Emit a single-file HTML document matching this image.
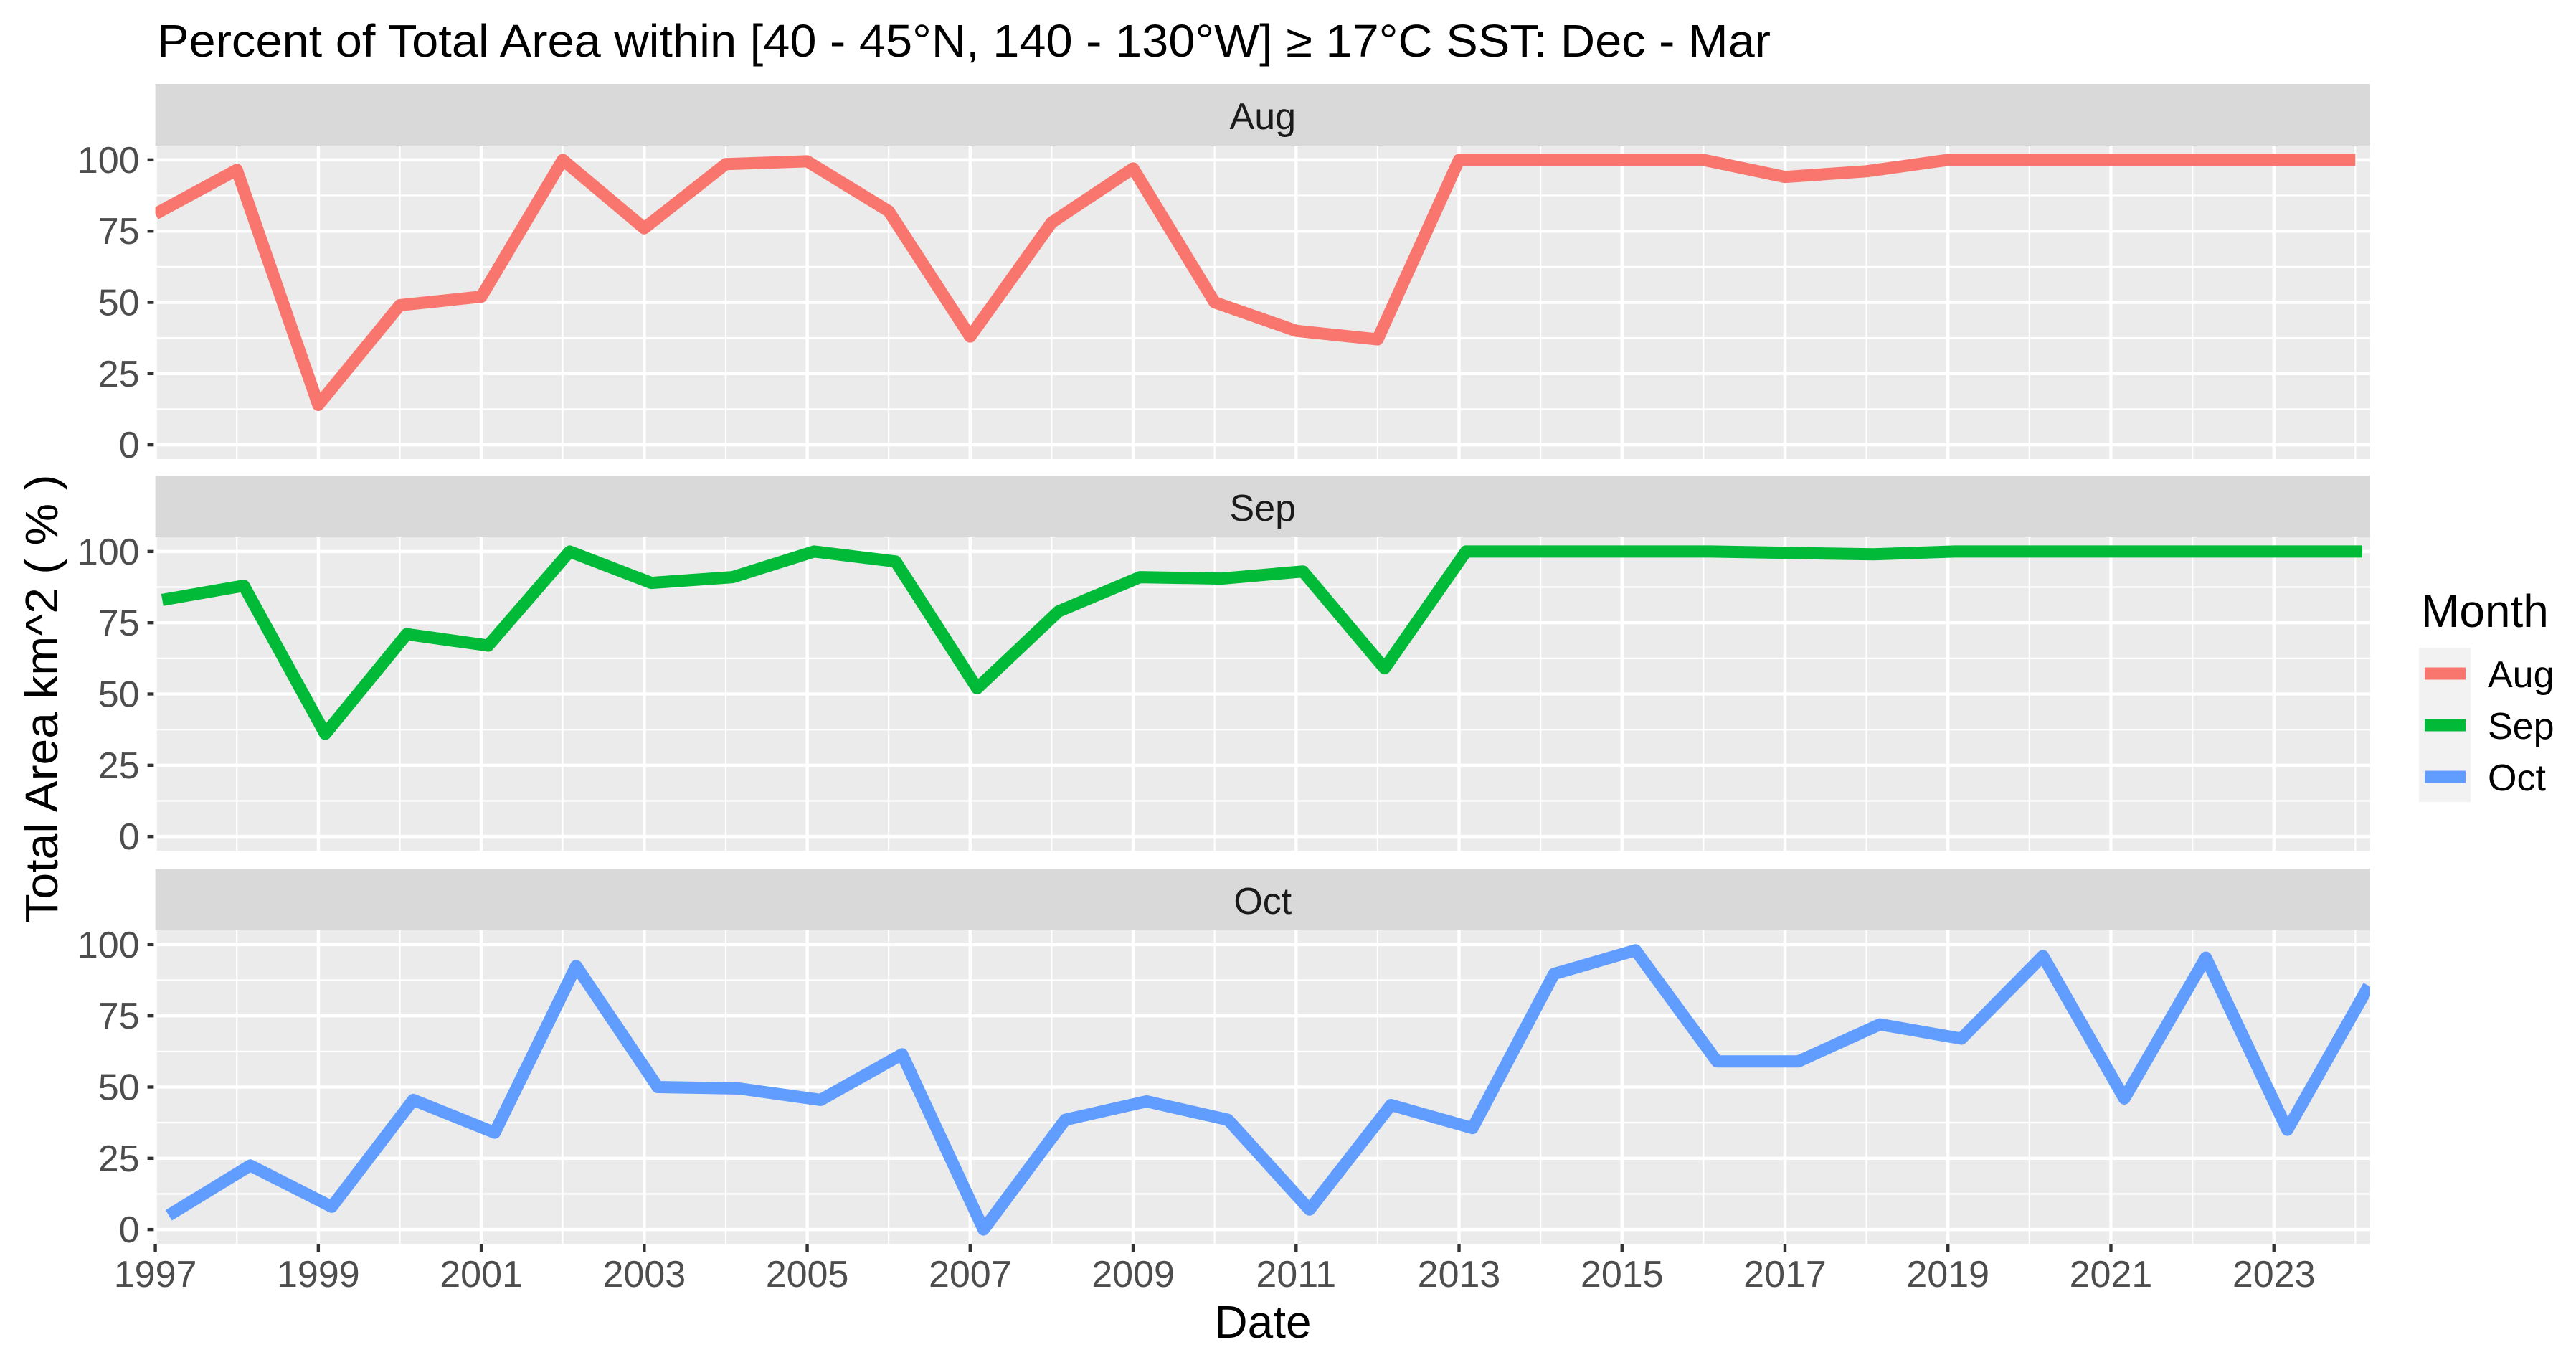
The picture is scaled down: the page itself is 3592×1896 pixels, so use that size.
<!DOCTYPE html>
<html><head><meta charset="utf-8"><style>
html,body{margin:0;padding:0;background:#fff;}
svg{display:block;font-family:"Liberation Sans",Arial,sans-serif;}
</style></head><body>
<svg id="chart" width="3592" height="1896" viewBox="0 0 3592 1896" xmlns="http://www.w3.org/2000/svg">
<text x="219" y="79" font-size="64" fill="#000" textLength="2250" lengthAdjust="spacingAndGlyphs">Percent of Total Area within [40 - 45°N, 140 - 130°W] ≥ 17°C SST: Dec - Mar</text>
<text transform="translate(80,974) rotate(-90)" text-anchor="middle" font-size="64" fill="#000" textLength="625" lengthAdjust="spacingAndGlyphs">Total Area km^2 ( % )</text>
<text x="1761" y="1865" text-anchor="middle" font-size="64" fill="#000">Date</text>
<g id="panels"></g>
<g id="legend">
<text x="3376" y="874" font-size="64" fill="#000">Month</text>
</g>
</svg>
<script>
const years = [1997,1998,1999,2000,2001,2002,2003,2004,2005,2006,2007,2008,2009,2010,2011,2012,2013,2014,2015,2016,2017,2018,2019,2020,2021,2022,2023,2024];
const months = ["Aug","Sep","Oct"];
const monthOffsets = [0.0, 0.085, 0.165];
const augValues = [81,96.5,14,49,52,100,76,98.5,99.5,82,38,78,97,50,40,37,100,100,100,100,94,96,100,100,100,100,100,100];
const sepValues = [83,88,36,71,67,100,89,91,100,96.5,52,79,91,90.5,93,59,100,100,100,100,99.5,99,100,100,100,100,100,100];
const octValues = [5,22.5,8,45.5,34,92.5,50,49.5,45.5,61.5,0,38.5,45,38.5,7,43.7,35.6,89.7,98,59,59,72,67,96,46,95.4,35,85.5];
const yTicks = [0,25,50,75,100];
const xTickLabels = ["1997","1999","2001","2003","2005","2007","2009","2011","2013","2015","2017","2019","2021","2023"];
const colors = ["#F8766D","#00BA38","#619CFF"];
const seriesValues = [augValues, sepValues, octValues];

const NS = "http://www.w3.org/2000/svg";
const PL = 216.6, PR = 3305;
const YEAR_PX = 113.62;
const stripTops = [117, 663, 1211];
const STRIP_H = 86, PANEL_H = 437;
function xScale(t){ return PL + (t - 1997) * YEAR_PX; }
function yScale(v, top){ return top + PANEL_H - (v + 5) / 110 * PANEL_H; }
function mk(tag, attrs, parent){
  const e = document.createElementNS(NS, tag);
  for (const k in attrs) e.setAttribute(k, attrs[k]);
  parent.appendChild(e); return e;
}
const panels = document.getElementById("panels");
const defs = mk("defs", {}, panels);

months.forEach((m, i) => {
  const sTop = stripTops[i];
  const pTop = sTop + STRIP_H;
  const g = mk("g", {}, panels);
  
  
  const strip = mk("rect", {x:PL, y:sTop, width:PR-PL, height:STRIP_H, fill:"#D9D9D9"}, g);
  
  
  const st = mk("text", {x:(PL+PR)/2, y:sTop+63, "text-anchor":"middle", "font-size":"52", fill:"#1A1A1A"}, g);
  st.textContent = m;
  
  
  const bg = mk("rect", {x:PL, y:pTop, width:PR-PL, height:PANEL_H, fill:"#EBEBEB"}, g);
  
  
  for (let k = 0; k < yTicks.length - 1; k++) {
    const v = (yTicks[k] + yTicks[k+1]) / 2;
    const l = mk("line", {x1:PL, x2:PR, y1:yScale(v,pTop), y2:yScale(v,pTop), stroke:"#fff", "stroke-width":2.2}, g);
    
    
  }
  for (let yr = 1998; yr <= 2024; yr += 2) {
    const l = mk("line", {x1:xScale(yr), x2:xScale(yr), y1:pTop, y2:pTop+PANEL_H, stroke:"#fff", "stroke-width":2.2}, g);
    
    
  }
  yTicks.forEach(v => {
    const y = yScale(v, pTop);
    const l = mk("line", {x1:PL, x2:PR, y1:y, y2:y, stroke:"#fff", "stroke-width":4.4}, g);
    
    
    const tk = mk("line", {x1:PL-11, x2:PL, y1:y, y2:y, stroke:"#333", "stroke-width":4.4}, g);
    
    
    const t = mk("text", {x:PL-22, y:y+18, "text-anchor":"end", "font-size":"52", fill:"#4D4D4D"}, g);
    t.textContent = String(v);
    
    
  });
  xTickLabels.forEach(lbl => {
    const x = xScale(+lbl);
    const l = mk("line", {x1:x, x2:x, y1:pTop, y2:pTop+PANEL_H, stroke:"#fff", "stroke-width":4.4}, g);
    
    
  });
  const cp = mk("clipPath", {id:"clip"+i}, defs);
  mk("rect", {x:PL, y:pTop, width:PR-PL, height:PANEL_H}, cp);
  const pts = years.map((yr, j) => xScale(yr + monthOffsets[i]).toFixed(1) + "," + yScale(seriesValues[i][j], pTop).toFixed(1)).join(" ");
  const pl = mk("polyline", {points:pts, fill:"none", stroke:colors[i], "stroke-width":17, "stroke-linejoin":"round", "clip-path":"url(#clip"+i+")"}, g);
  
  
});

const bottom = stripTops[2] + STRIP_H + PANEL_H;
const xg = mk("g", {}, panels);


xTickLabels.forEach(lbl => {
  const x = xScale(+lbl);
  const tk = mk("line", {x1:x, x2:x, y1:bottom, y2:bottom+11, stroke:"#333", "stroke-width":4.4}, xg);
  
  
  const t = mk("text", {x:x, y:bottom+60, "text-anchor":"middle", "font-size":"52", fill:"#4D4D4D"}, xg);
  t.textContent = lbl;
  
  
});

const lg = document.getElementById("legend");
const kb = mk("rect", {x:3373, y:903, width:72, height:215, fill:"#F2F2F2"}, lg);


months.forEach((m, i) => {
  const cy = 939 + i * 72;
  const l = mk("line", {x1:3381, x2:3438, y1:cy, y2:cy, stroke:colors[i], "stroke-width":17}, lg);
  
  
  const t = mk("text", {x:3469, y:cy+19, "font-size":"52", fill:"#000"}, lg);
  t.textContent = m;
  
  
});
</script>
</body></html>
